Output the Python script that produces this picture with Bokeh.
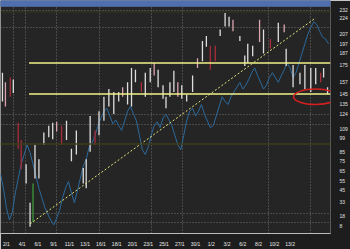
from bokeh.plotting import figure
from bokeh.models import Range1d, FixedTicker, LinearAxis, Grid, Span, ColumnDataSource, Label
from bokeh.embed import file_html
from bokeh.resources import INLINE

# candles: x position, high, low, colour class
candle_x = [2,5,10,13,18,21,26,30,33,35,39,44,49,53,57,62,67,72,77,84,87,91,96,100,105,110,115,120,124,129,133,137,143,147,152,156,160,165,168,172,176,180,184,189,195,200,205,209,213,218,223,228,232,236,243,248,251,256,263,267,274,282,288,290,297,304,309,315,320,325,328,332]
candle_high = [167,157,162,160,115,97,72,32,52,92,77,105,112,115,116,112,117,88,107,68,77,122,107,127,142,150,147,147,152,157,172,170,157,167,172,177,170,154,142,157,169,157,154,144,164,182,200,205,195,195,212,229,225,222,205,185,197,195,222,212,202,219,217,192,175,167,175,172,172,167,172,152]
candle_low = [137,132,142,146,88,67,52,7,12,57,57,92,100,98,106,92,97,75,82,52,47,85,92,102,117,132,124,137,142,134,132,157,147,142,157,164,152,140,130,142,147,142,140,137,147,172,179,194,170,179,205,215,215,210,200,174,177,184,199,187,192,199,209,174,152,155,150,147,155,157,162,145]
candle_kind = ["w","p","r","w","r","r","w","w","g","w","w","w","w","w","p","r","w","w","w","w","w","w","r","w","w","w","w","w","p","w","w","w","r","w","w","p","w","w","w","w","w","p","w","w","w","p","w","w","r","r","w","w","w","p","w","w","w","w","p","w","r","w","p","w","w","w","w","w","w","r","w","w"]

# blue series
blue_x = list(range(0, 336, 3))
blue_y = [62,47,27,14,22,42,57,72,82,92,84,72,60,47,37,27,20,14,9,16,24,37,47,54,42,32,44,57,70,77,90,94,102,112,120,127,130,122,114,118,112,107,117,127,132,124,117,102,87,82,90,102,112,116,110,120,124,118,112,102,92,87,102,117,127,130,122,127,134,124,117,110,112,122,132,142,137,134,142,147,152,157,150,154,160,167,172,164,157,150,154,162,167,162,157,164,170,177,172,162,167,177,187,197,207,214,220,217,210,204,202,197]

# reference levels and trend
level_hi = 177
level_lo = 145
trend_x = [30, 320]
trend_y = [10, 224]
zone_x, zone_y, zone_w, zone_h = 320, 142, 45, 16

grid_x = [13, 25, 57, 100, 153, 185, 272, 315]
grid_y = [11, 21, 113, 124, 214, 232]
y_ticks = [8, 18, 33, 45, 55, 65, 75, 85, 99, 109, 124, 135, 145, 157, 175, 187, 197, 207, 224, 232]
x_ticks = [6, 22, 38, 54, 70, 86, 102, 118, 134, 150, 166, 182, 198, 214, 230, 246, 262, 278, 294]
x_labels = ["2/1", "4/1", "6/1", "9/1", "11/1", "13/1", "16/1", "18/1", "20/1", "23/1",
            "25/1", "27/1", "30/1", "1/2", "3/2", "6/2", "8/2", "10/2", "13/2"]

colmap = {"w": "#dedede", "p": "#d9a3af", "r": "#a82c3a", "g": "#3a9a3a"}

p = figure(width=350, height=249, output_backend="svg", toolbar_location=None,
           x_range=Range1d(0, 335), y_range=Range1d(0, 242),
           min_border_left=0, min_border_top=0, min_border_right=15, min_border_bottom=7,
           background_fill_color="#252525", border_fill_color="#1d1d1d",
           outline_line_color=None, x_axis_location=None, y_axis_location=None)
p.grid.visible = False

for dim, ticks in ((0, grid_x), (1, grid_y)):
    g = Grid(dimension=dim, ticker=FixedTicker(ticks=ticks), grid_line_color="#8a8a8a",
             grid_line_dash="1 2", grid_line_alpha=0.75)
    p.add_layout(g)

p.add_layout(Span(location=93, dimension="width", line_color="#3f3c18", line_width=1.5))
p.add_layout(Span(location=230, dimension="width", line_color="#37351a", line_width=1))

# top title bar
p.quad(left=[0], right=[335], bottom=[236], top=[242], color="#4f6fae")

p.line(blue_x, blue_y, line_color="#2c6a9c", line_width=1)

src = ColumnDataSource(dict(x=candle_x, h=candle_high, l=candle_low,
                            c=[colmap[k] for k in candle_kind]))
p.segment(x0="x", y0="l", x1="x", y1="h", source=src, line_color="c", line_width=1.3)

p.segment(x0=[29], y0=[level_hi], x1=[335], y1=[level_hi], line_color="#f2f28a", line_width=1.5)
p.segment(x0=[29], y0=[level_lo], x1=[335], y1=[level_lo], line_color="#f2f28a", line_width=1.5)
p.line(trend_x, trend_y, line_color="#e6e67a", line_dash="2 2", line_width=1)
p.ellipse(x=[zone_x], y=[zone_y], width=[zone_w], height=[zone_h],
          fill_color=None, line_color="#d42020", line_width=1.5)

ya = LinearAxis(ticker=FixedTicker(ticks=y_ticks), major_label_text_font_size="5px",
                major_label_text_color="#e0e0e0", major_tick_line_color=None,
                minor_tick_line_color=None, axis_line_color=None, major_label_standoff=3)
p.add_layout(ya, "right")
xa = LinearAxis(ticker=FixedTicker(ticks=x_ticks), major_label_text_font_size="5px",
                major_label_text_color="#ececec", major_tick_line_color=None,
                minor_tick_line_color=None, axis_line_color="#bbbbbb", major_label_standoff=1,
                major_label_overrides={t: s for t, s in zip(x_ticks, x_labels)})
p.add_layout(xa, "below")

p.add_layout(Label(x=337, y=193, text="195", text_font_size="5px", text_color="#e03030"))
p.add_layout(Label(x=337, y=154, text="157", text_font_size="5px", text_color="#e0e0a0",
                   border_line_color="#6aa830", background_fill_color="#2a3a1a"))

open("out.html", "w").write(file_html(p, INLINE))
